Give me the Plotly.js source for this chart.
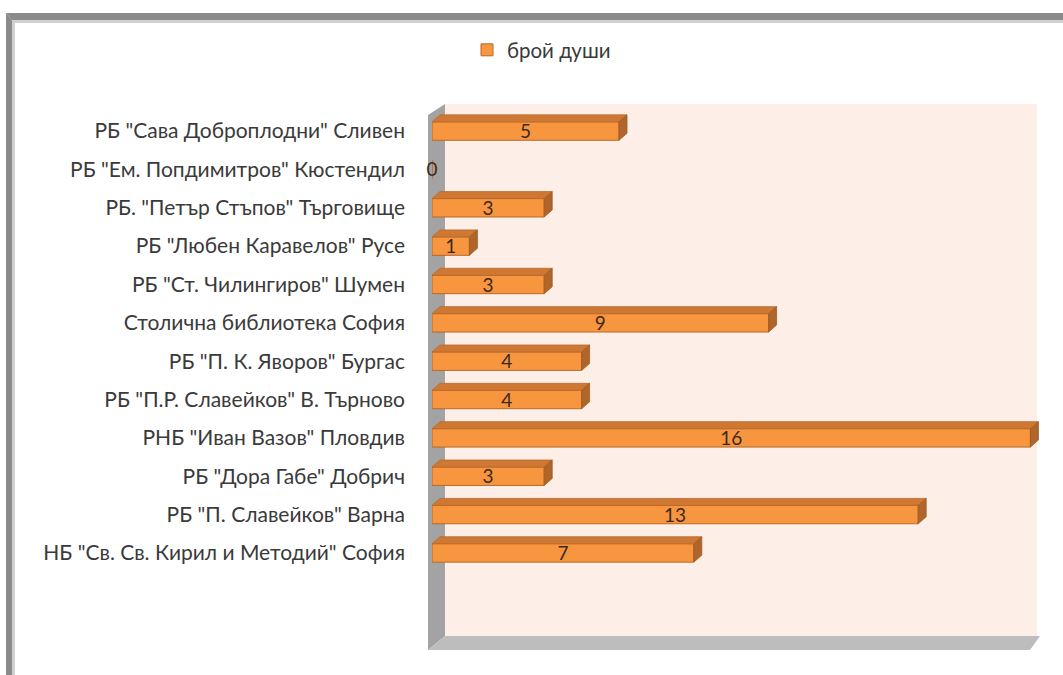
<!DOCTYPE html>
<html>
<head>
<meta charset="utf-8">
<script src="https://cdn.plot.ly/plotly-3.0.1.min.js"></script>
<style>html,body{margin:0;padding:0;background:#fff;}#chart{width:1063px;height:675px;}</style>
</head>
<body>
<div id="chart"></div>
<script>
// Categories, top to bottom as displayed
const categories = [
  'РБ "Сава Доброплодни" Сливен',
  'РБ "Ем. Попдимитров" Кюстендил',
  'РБ. "Петър Стъпов" Търговище',
  'РБ "Любен Каравелов" Русе',
  'РБ "Ст. Чилингиров" Шумен',
  'Столична библиотека София',
  'РБ "П. К. Яворов" Бургас',
  'РБ "П.Р. Славейков" В. Търново',
  'РНБ "Иван Вазов" Пловдив',
  'РБ "Дора Габе" Добрич',
  'РБ "П. Славейков" Варна',
  'НБ "Св. Св. Кирил и Методий" София'
];
const values = [5, 0, 3, 1, 3, 9, 4, 4, 16, 3, 13, 7];
const seriesName = 'брой души';

// layout geometry (pixels)
const W = 1063, H = 675;
const L = 432, R = 21, T = 105, B = 40;
const plotW = W - L - R, plotH = H - T - B;
const xMax = 16.31;
const yMin = -2.14, yMax = 11.68;
const n = categories.length;
const pos = categories.map((c, i) => n - 1 - i);

const pxX = plotW / xMax;
const pxY = plotH / (yMax - yMin);
const bw = 0.48;
const dx = 8 / pxX, dy = 7 / pxY;

// top and side faces
const topX = [], topY = [], sideX = [], sideY = [];
values.forEach((v, i) => {
  if (v <= 0) return;
  const k = pos[i], yt = k + bw / 2, yb = k - bw / 2;
  topX.push(0, v, v + dx, dx, 0, null);
  topY.push(yt, yt, yt + dy, yt + dy, yt, null);
  sideX.push(v, v + dx, v + dx, v, v, null);
  sideY.push(yb, yb + dy, yt + dy, yt, yb, null);
});

const FONT = 'Lato, "Noto Sans", sans-serif';

const front = {
  type: 'bar', orientation: 'h', name: seriesName,
  x: values, y: pos, width: bw,
  marker: {color: '#F8953F', line: {color: '#B8692A', width: 1}},
  hoverinfo: 'x', showlegend: true
};
const topFace = {
  type: 'scatter', mode: 'lines', x: topX, y: topY, fill: 'toself',
  fillcolor: '#CF7833', line: {color: '#B8692A', width: 0.8},
  showlegend: false, hoverinfo: 'skip'
};
const sideFace = {
  type: 'scatter', mode: 'lines', x: sideX, y: sideY, fill: 'toself',
  fillcolor: '#B0652A', line: {color: '#A05C26', width: 0.8},
  showlegend: false, hoverinfo: 'skip'
};
const labels = {
  type: 'scatter', mode: 'text', x: values.map(v => v / 2), y: pos.map(p => p - 0.06),
  text: values.map(String), textposition: 'middle center',
  textfont: {family: FONT, size: 19, color: '#3b2a1c'},
  showlegend: false, hoverinfo: 'skip', cliponaxis: false
};

// pixel -> paper helpers for decorations
const px = p => (p - L) / plotW;
const py = p => (H - B - p) / plotH;
function poly(pts) {
  return 'M' + pts.map(p => px(p[0]) + ',' + py(p[1])).join(' L') + ' Z';
}
const shapes = [
  // back wall (peach)
  {type: 'path', xref: 'paper', yref: 'paper', layer: 'below',
   path: poly([[445, 104], [1037, 104], [1037, 636], [445, 636]]),
   fillcolor: '#FDEFE7', line: {width: 0}},
  // left side wall (gray)
  {type: 'path', xref: 'paper', yref: 'paper', layer: 'below',
   path: poly([[428, 115], [445, 104], [445, 636], [428, 650]]),
   fillcolor: '#A3A3A3', line: {width: 0}},
  // floor
  {type: 'path', xref: 'paper', yref: 'paper', layer: 'below',
   path: poly([[445, 636], [1040, 636], [1030, 650], [428, 650]]),
   fillcolor: '#BDBDBD', line: {width: 0}},
  // frame top
  {type: 'path', xref: 'paper', yref: 'paper', layer: 'below',
   path: poly([[6, 13], [1063, 13], [1063, 20], [12, 20]]),
   fillcolor: '#8A8A8A', line: {width: 0}},
  {type: 'path', xref: 'paper', yref: 'paper', layer: 'below',
   path: poly([[12, 20], [1063, 20], [1063, 23], [12, 23]]),
   fillcolor: '#D0D0D0', line: {width: 0}},
  // frame left
  {type: 'path', xref: 'paper', yref: 'paper', layer: 'below',
   path: poly([[6, 13], [12, 20], [12, 675], [6, 675]]),
   fillcolor: '#8A8A8A', line: {width: 0}},
  {type: 'path', xref: 'paper', yref: 'paper', layer: 'below',
   path: poly([[12, 20], [15, 23], [15, 675], [12, 675]]),
   fillcolor: '#D0D0D0', line: {width: 0}}
];

const layout = {
  width: W, height: H,
  margin: {l: L, r: R, t: T, b: B, pad: 0},
  paper_bgcolor: '#ffffff', plot_bgcolor: 'rgba(0,0,0,0)',
  font: {family: FONT, size: 20, color: '#3a3a3a'},
  xaxis: {range: [0, xMax], showgrid: false, zeroline: false, showticklabels: false,
          showline: false, ticks: '', fixedrange: true},
  yaxis: {range: [yMin, yMax], tickmode: 'array', tickvals: pos, ticktext: categories,
          showgrid: false, zeroline: false, showline: false, ticks: '',
          ticklabelstandoff: 26, tickfont: {family: FONT, size: 21, color: '#3a3a3a'}, fixedrange: true},
  showlegend: true,
  legend: {orientation: 'h', x: px(467), xanchor: 'left', y: py(50), yanchor: 'middle',
           itemwidth: 30, font: {family: FONT, size: 20.5, color: '#3a3a3a'}, bgcolor: 'rgba(0,0,0,0)'},
  shapes: shapes
};

Plotly.newPlot('chart', [front, topFace, sideFace, labels], layout, {displayModeBar: false, staticPlot: true});
</script>
</body>
</html>
